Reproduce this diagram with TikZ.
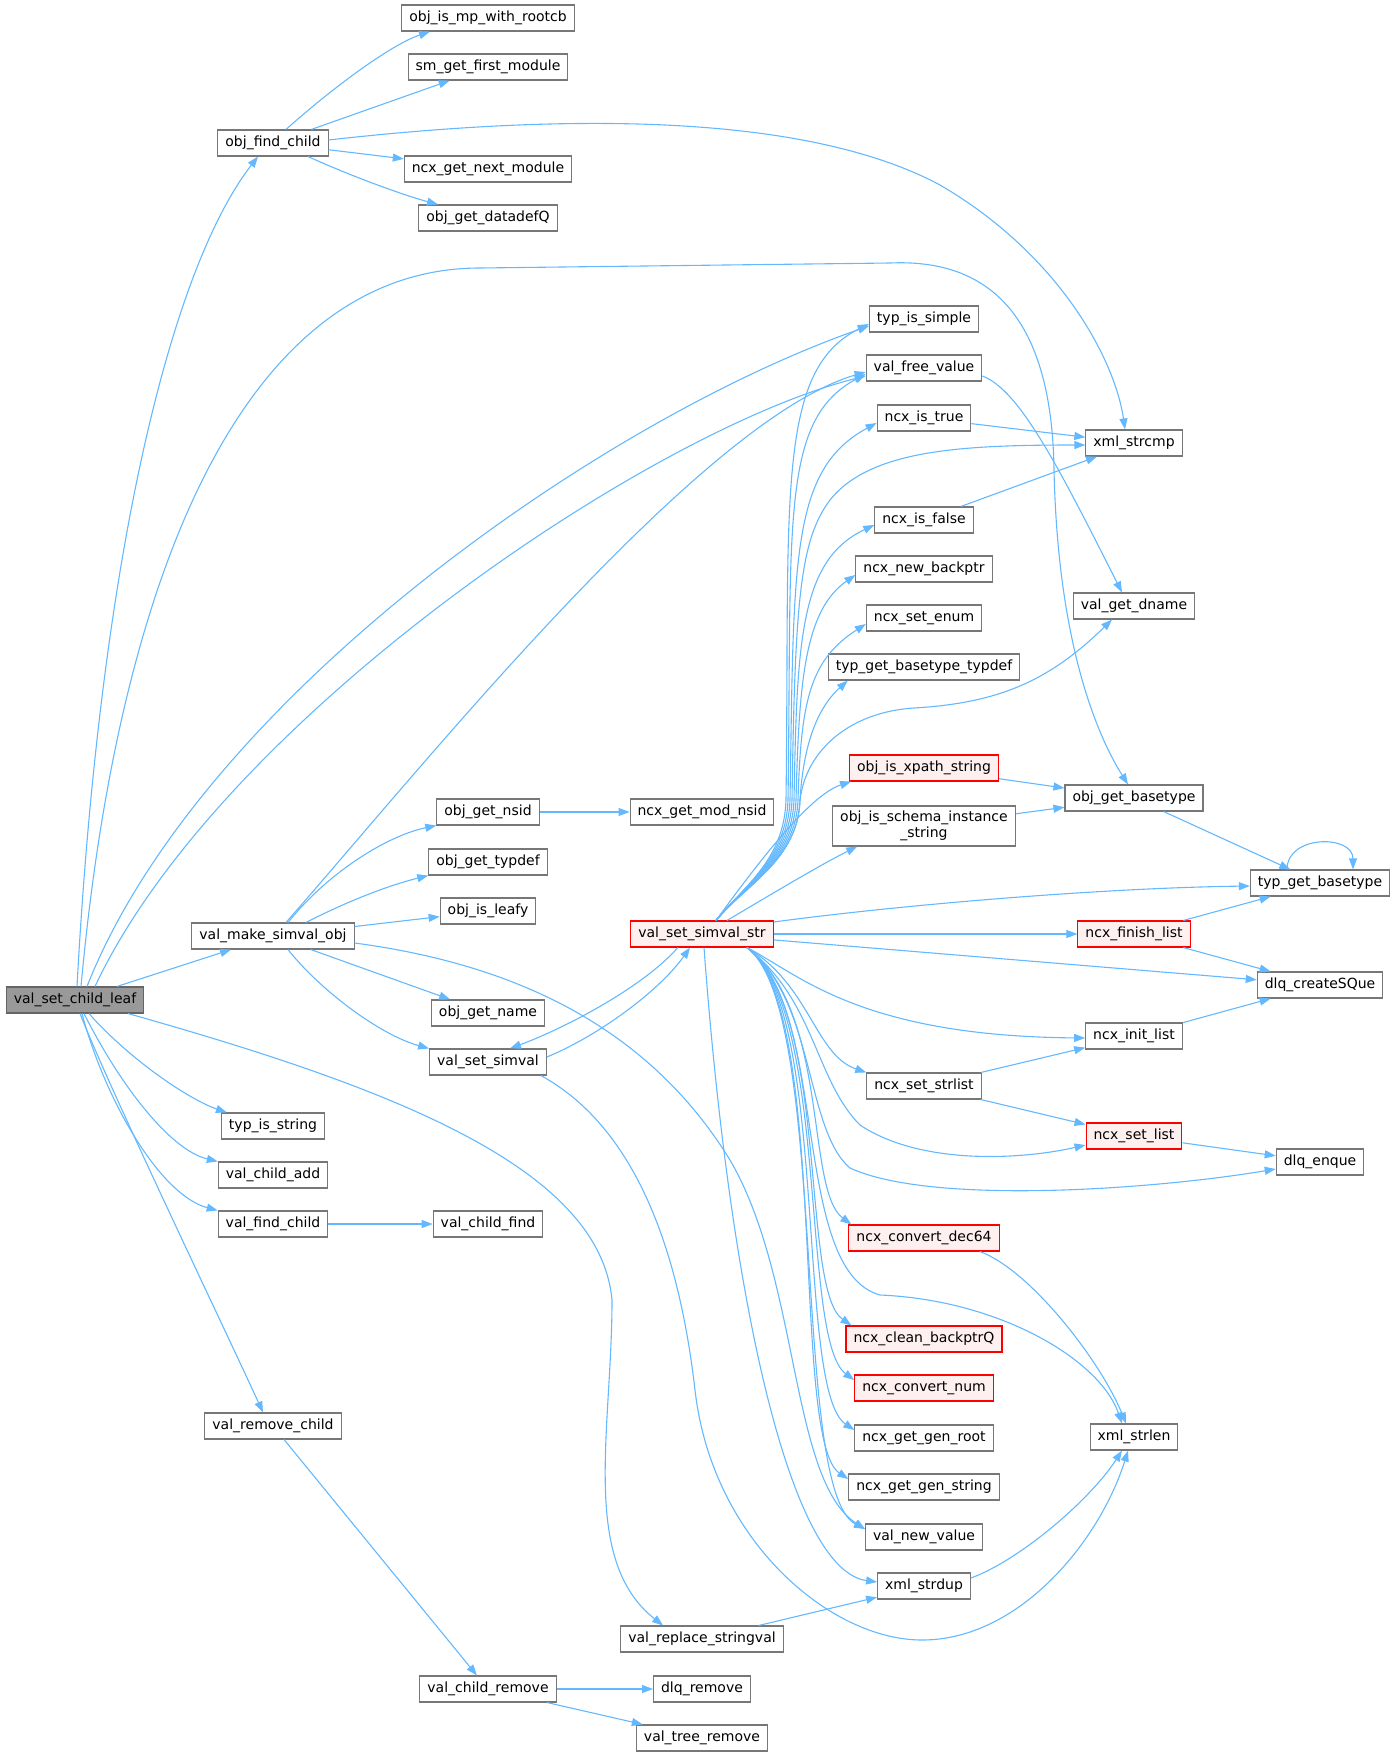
\documentclass[tikz,border=0pt]{standalone}
\usepackage{fontspec}
\setmainfont{DejaVu Sans}
\usetikzlibrary{arrows.meta}

\definecolor{edgeblue}{HTML}{63B8FF}
\definecolor{boxgray}{HTML}{777777}
\definecolor{rootgray}{HTML}{999999}
\definecolor{hotfill}{HTML}{FFF0F0}

\begin{document}
\begin{tikzpicture}[->,>={Triangle[length=11pt,width=8pt]},x=1pt,y=-1pt,
   color=edgeblue,line width=1.1pt,
   fn/.style={rectangle,draw=boxgray,fill=white,text=black,line width=1.1pt,
     inner xsep=7.5pt,inner ysep=0pt,minimum height=26pt,
     font=\fontsize{14}{16}\selectfont},
   hot/.style={fn,draw=red,fill=hotfill},
   root/.style={fn,draw=boxgray!85!black,fill=rootgray}]
   \useasboundingbox (0,0) rectangle (1395,1753);

   % first columns
   \node[root] (vscl) at (75,1000) {val\_set\_child\_leaf};
   \node[fn] (ofc) at (273,143) {obj\_find\_child};
   \node[fn] (vmso) at (273,936) {val\_make\_simval\_obj};
   \node[fn] (tis) at (273,1126) {typ\_is\_string};
   \node[fn] (vca) at (273,1175) {val\_child\_add};
   \node[fn] (vfc) at (273,1224) {val\_find\_child};
   \node[fn] (vrc) at (273,1426) {val\_remove\_child};
   \node[fn] (omp) at (488,18) {obj\_is\_mp\_with\_rootcb};
   \node[fn] (sgfm) at (488,67) {sm\_get\_first\_module};
   \node[fn] (ngnm) at (488,169) {ncx\_get\_next\_module};
   \node[fn] (ogdq) at (488,218) {obj\_get\_datadefQ};
   \node[fn] (ogns) at (488,812) {obj\_get\_nsid};
   \node[fn] (ogtd) at (488,862) {obj\_get\_typdef};
   \node[fn] (oil) at (488,911) {obj\_is\_leafy};
   \node[fn] (ogn) at (488,1013) {obj\_get\_name};
   \node[fn] (vss) at (488,1062) {val\_set\_simval};
   \node[fn] (vcf) at (488,1224) {val\_child\_find};
   \node[fn] (vcr) at (488,1689) {val\_child\_remove};
   \node[fn] (ngmn) at (702,812) {ncx\_get\_mod\_nsid};
   \node[hot] (vsss) at (702,934) {val\_set\_simval\_str};
   \node[fn] (vrsv) at (702,1639) {val\_replace\_stringval};
   \node[fn] (dlqr) at (702,1689) {dlq\_remove};
   \node[fn] (vtr) at (702,1738) {val\_tree\_remove};

   % callees of val_set_simval_str
   \node[fn] (tisimp) at (924,319) {typ\_is\_simple};
   \node[fn] (vfv) at (924,368) {val\_free\_value};
   \node[fn] (nit) at (924,418) {ncx\_is\_true};
   \node[fn] (nif) at (924,520) {ncx\_is\_false};
   \node[fn] (nnb) at (924,569) {ncx\_new\_backptr};
   \node[fn] (nse) at (924,618) {ncx\_set\_enum};
   \node[fn] (tgbt) at (924,667) {typ\_get\_basetype\_typdef};
   \node[hot] (oixs) at (924,768) {obj\_is\_xpath\_string};
   \node[fn,align=center,inner ysep=5pt] (oisis) at (924,826) {obj\_is\_schema\_instance\\\_string};
   \node[fn] (nssl) at (924,1086) {ncx\_set\_strlist};
   \node[hot] (ncd) at (924,1238) {ncx\_convert\_dec64};
   \node[hot] (ncb) at (924,1339) {ncx\_clean\_backptrQ};
   \node[hot] (ncn) at (924,1388) {ncx\_convert\_num};
   \node[fn] (nggr) at (924,1438) {ncx\_get\_gen\_root};
   \node[fn] (nggs) at (924,1487) {ncx\_get\_gen\_string};
   \node[fn] (vnv) at (924,1537) {val\_new\_value};
   \node[fn] (xsd) at (924,1586) {xml\_strdup};
   \node[fn] (xsc) at (1134,443) {xml\_strcmp};
   \node[fn] (vgd) at (1134,606) {val\_get\_dname};
   \node[fn] (ogb) at (1134,798) {obj\_get\_basetype};
   \node[hot] (nfl) at (1134,934) {ncx\_finish\_list};
   \node[fn] (ncxinit) at (1134,1036) {ncx\_init\_list};
   \node[hot] (nsl) at (1134,1136) {ncx\_set\_list};
   \node[fn] (xsl) at (1134,1437) {xml\_strlen};
   \node[fn] (tgb) at (1320,883) {typ\_get\_basetype};
   \node[fn] (dcsq) at (1320,985) {dlq\_createSQue};
   \node[fn] (dlqe) at (1320,1162) {dlq\_enque};

   % val_set_child_leaf
   \draw ([xshift=2pt]vscl.north) .. controls (100,560) and (170,270) .. ([xshift=-15pt]ofc.south);
   \draw ([xshift=6pt]vscl.north) .. controls (120,560) and (250,268) .. (480,268) -- (890,263)
      .. controls (1000,258) and (1052,330) .. (1054,470)
      .. controls (1058,650) and (1100,740) .. ([xshift=-6pt]ogb.north);
   \draw ([xshift=12pt]vscl.north) .. controls (200,700) and (600,420) .. ([yshift=-7pt]tisimp.west);
   \draw ([xshift=20pt]vscl.north) .. controls (220,720) and (650,430) .. ([yshift=-8pt]vfv.west);
   \path (vscl) edge (vmso);
   \draw ([xshift=14pt]vscl.south) .. controls (130,1060) and (190,1100) .. ([xshift=6pt]tis.north west);
   \draw ([xshift=9pt]vscl.south) .. controls (120,1085) and (170,1150) .. (vca.north west);
   \draw ([xshift=7pt]vscl.south) .. controls (105,1100) and (160,1195) .. (vfc.north west);
   \draw ([xshift=5pt]vscl.south) .. controls (110,1090) and (230,1340) .. ([xshift=-10pt]vrc.north);
   \draw ([xshift=53pt]vscl.south) .. controls (400,1090) and (600,1170) .. (612,1300)
      .. controls (612,1430) and (580,1560) .. ([xshift=-39pt]vrsv.north);

   % obj_find_child
   \draw ([xshift=13pt]ofc.north) .. controls (330,90) and (390,45) .. ([xshift=-58pt]omp.south);
   \path (ofc) edge (sgfm);
   \draw ([yshift=3pt]ofc.east) .. controls (550,115) and (800,110) .. (940,185)
      .. controls (1060,255) and (1115,360) .. ([xshift=-9pt]xsc.north);
   \path (ofc) edge (ngnm);
   \draw ([xshift=35pt]ofc.south) .. controls (360,180) and (410,197) .. ([xshift=-50pt]ogdq.north);

   % val_make_simval_obj
   \draw ([xshift=13pt]vmso.north) .. controls (420,770) and (700,420) .. ([yshift=-4pt]vfv.west);
   \draw ([xshift=15pt]vmso.north) .. controls (330,870) and (390,835) .. (ogns.south west);
   \draw ([xshift=33pt]vmso.north) .. controls (350,900) and (390,885) .. (ogtd.south west);
   \path (vmso) edge (oil);
   \path (vmso) edge (ogn);
   \draw ([xshift=15pt]vmso.south) .. controls (320,990) and (380,1035) .. (vss.north west);
   \draw ([yshift=-7pt]vmso.east) .. controls (520,965) and (650,1030) .. (730,1160)
      .. controls (800,1280) and (790,1480) .. ([yshift=8pt]vnv.west);
   \path (ogns) edge (ngmn);

   % val_set_simval
   \draw ([yshift=5pt]vss.east) .. controls (600,1035) and (660,990) .. ([xshift=-12pt]vsss.south);
   \draw ([xshift=-24pt]vsss.south) .. controls (640,990) and (560,1030) .. ([xshift=22pt]vss.north);
   \draw ([xshift=53pt]vss.south) .. controls (640,1130) and (680,1260) .. (695,1390)
      .. controls (712,1540) and (830,1640) .. (922,1640)
      .. controls (1020,1640) and (1100,1540) .. ([xshift=-6pt]xsl.south);

   % val_set_simval_str, upwards
   \draw ([xshift=14pt]vsss.north) .. controls (745,885) and (784,860) .. (786,800)
      .. controls (790,500) and (775,370) .. ([yshift=-5pt]tisimp.west);
   \draw ([xshift=14pt]vsss.north) .. controls (745,885) and (786,860) .. (788,800)
      .. controls (792,520) and (780,420) .. ([yshift=-6pt]vfv.west);
   \draw ([xshift=14pt]vsss.north) .. controls (745,885) and (788,860) .. (790,800)
      .. controls (794,560) and (790,470) .. ([yshift=-5pt]nit.west);
   \draw ([xshift=14pt]vsss.north) .. controls (745,885) and (790,860) .. (792,800)
      .. controls (795,600) and (800,540) .. (830,500)
      .. controls (870,450) and (960,445) .. ([yshift=-2pt]xsc.west);
   \draw ([xshift=14pt]vsss.north) .. controls (745,885) and (792,860) .. (794,800)
      .. controls (797,640) and (800,560) .. ([yshift=-5pt]nif.west);
   \draw ([xshift=14pt]vsss.north) .. controls (745,885) and (794,860) .. (796,800)
      .. controls (799,680) and (805,610) .. ([yshift=-6pt]nnb.west);
   \draw ([xshift=14pt]vsss.north) .. controls (745,885) and (796,860) .. (798,800)
      .. controls (801,700) and (810,660) .. ([yshift=-6pt]nse.west);
   \draw ([xshift=14pt]vsss.north) .. controls (745,885) and (798,860) .. (800,800)
      .. controls (803,750) and (815,710) .. ([xshift=20pt]tgbt.south west);
   \draw ([xshift=14pt]vsss.north) .. controls (745,885) and (798,860) .. (800,800)
      .. controls (806,750) and (850,712) .. (914,708)
      .. controls (1000,703) and (1050,680) .. ([xshift=-22pt]vgd.south);
   \draw ([xshift=14pt]vsss.north) .. controls (760,860) and (810,795) .. ([xshift=2pt]oixs.south west);
   \draw ([xshift=25pt]vsss.north) .. controls (770,895) and (820,865) .. ([xshift=25pt]oisis.south west);

   % val_set_simval_str, rightwards
   \draw ([yshift=12pt]vsss.east) .. controls (900,905) and (1100,888) .. ([yshift=-3pt]tgb.west);
   \path (vsss) edge (nfl);
   \path (vsss) edge (dcsq);

   % val_set_simval_str, downwards
   \draw ([xshift=45pt]vsss.south) .. controls (800,975) and (860,1036) .. ([yshift=-2pt]ncxinit.west);
   \draw ([xshift=45pt]vsss.south) .. controls (810,985) and (815,1055) .. (nssl.north west);
   \draw ([xshift=45pt]vsss.south) .. controls (815,1000) and (815,1080) .. (860,1125)
      .. controls (920,1165) and (1020,1160) .. ([yshift=-9pt]nsl.west);
   \draw ([xshift=45pt]vsss.south) .. controls (815,1000) and (805,1130) .. (850,1168)
      .. controls (930,1205) and (1150,1190) .. ([yshift=-7pt]dlqe.west);
   \draw ([xshift=45pt]vsss.south) .. controls (830,1010) and (805,1190) .. ([xshift=3pt]ncd.north west);
   \draw ([xshift=45pt]vsss.south) .. controls (830,1010) and (790,1270) .. (880,1295)
      .. controls (1000,1300) and (1100,1360) .. ([xshift=-12pt]xsl.north);
   \draw ([xshift=45pt]vsss.south) .. controls (830,1010) and (800,1290) .. ([xshift=6pt]ncb.north west);
   \draw ([xshift=45pt]vsss.south) .. controls (830,1010) and (800,1340) .. ([yshift=8pt]ncn.west);
   \draw ([xshift=45pt]vsss.south) .. controls (830,1010) and (795,1390) .. ([yshift=8pt]nggr.west);
   \draw ([xshift=45pt]vsss.south) .. controls (830,1010) and (790,1440) .. ([yshift=8pt]nggs.west);
   \draw ([xshift=45pt]vsss.south) .. controls (830,1010) and (790,1490) .. ([yshift=8pt]vnv.west);
   \draw ([xshift=2pt]vsss.south) .. controls (730,1300) and (790,1570) .. ([yshift=4pt]xsd.west);

   % the rest
   \draw ([yshift=-8pt]vfv.east) .. controls (1020,390) and (1060,470) .. ([xshift=-12pt]vgd.north);
   \path (nit) edge (xsc);
   \path (nif) edge (xsc);
   \path (oixs) edge (ogb);
   \path (oisis) edge (ogb);
   \path (ogb) edge (tgb);
   \draw ([xshift=-33pt]tgb.north) .. controls +(0,-35) and +(0,-35) .. ([xshift=33pt]tgb.north);
   \path (nfl) edge (tgb);
   \path (nfl) edge (dcsq);
   \path (ncxinit) edge (dcsq);
   \path (nssl) edge (ncxinit);
   \path (nssl) edge (nsl);
   \path (nsl) edge (dlqe);
   \draw ([xshift=56pt]ncd.south) .. controls (1030,1270) and (1100,1360) .. ([xshift=-8pt]xsl.north);
   \draw ([yshift=8pt]xsd.east) .. controls (1020,1560) and (1090,1500) .. ([xshift=-12pt]xsl.south);
   \path (vrsv) edge (xsd);
   \path (vfc) edge (vcf);
   \path (vrc) edge (vcr);
   \path (vcr) edge (dlqr);
   \path (vcr) edge (vtr);

\end{tikzpicture}
\end{document}
